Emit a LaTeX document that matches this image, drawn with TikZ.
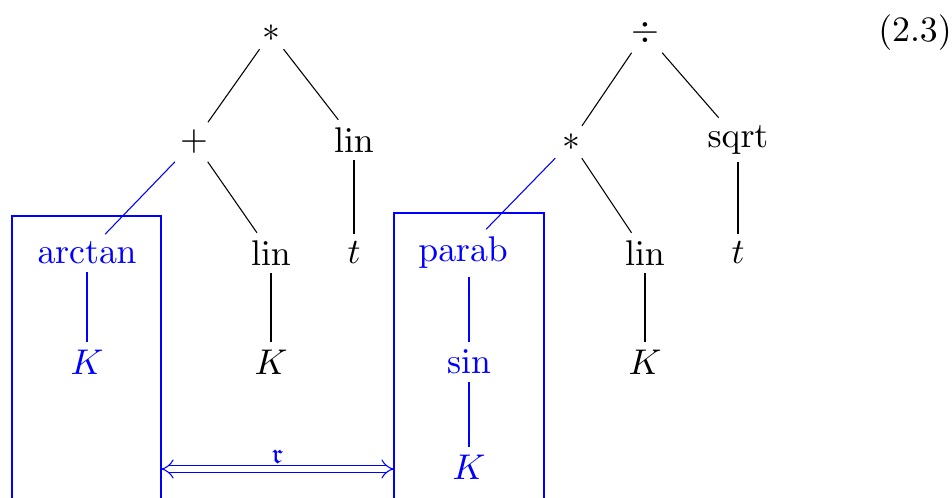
\documentclass[tikz,border=0pt]{standalone}
\usepackage{amsmath,amssymb}
\usetikzlibrary{arrows.meta}

\begin{document}
\begin{tikzpicture}[
    x=0.28pt, y=-0.28pt,
    op/.style={inner sep=2pt},
    hl/.style={inner sep=2pt, text=blue},
    edge/.style={draw, line width=0.3pt},
    hledge/.style={draw, line width=0.3pt, blue},
    subtree/.style={draw, blue, line width=0.3pt},
    gap/.style={blue, line width=0.3pt, double, double distance=1.6pt, {Implies[]}-{Implies[]}}
]
\useasboundingbox (0,0) rectangle (952,497);

% Left tree
\node[op] (mul1) at (271,33) {$\ast$};
\node[op] (plus) at (194,142) {$+$};
\node[op] (lin1) at (354,140) {$\operatorname{lin}$};
\node[hl] (arctan) at (87,253) {$\operatorname{arctan}$};
\node[op] (lin2) at (271,253) {$\operatorname{lin}$};
\node[op] (t1) at (354,253) {$t$};
\node[hl] (K1) at (87,362) {$K$};
\node[op] (K2) at (271,362) {$K$};

% Right tree
\node[op] (div) at (645,33) {$\div$};
\node[op] (mul2) at (571,142) {$\ast$};
\node[op] (sqrt) at (738,140) {$\operatorname{sqrt}$};
\node[hl] (parab) at (463,253) {$\operatorname{parab}$};
\node[op] (lin3) at (645,253) {$\operatorname{lin}$};
\node[op] (t2) at (738,253) {$t$};
\node[hl] (sin) at (469,362) {$\sin$};
\node[hl] (K3) at (469,467) {$K$};
\node[op] (K4) at (645,362) {$K$};

% Equation number
\node (eqno) at (915,33) {$(2.3)$};

% Edges of the left tree
\path[edge] (mul1) -- (plus);
\path[edge] (mul1) -- (lin1);
\path[edge] (plus) -- (lin2);
\path[edge] (lin1) -- (t1);
\path[edge] (lin2) -- (K2);
\path[hledge] (plus) -- (arctan);
\path[hledge] (arctan) -- (K1);

% Edges of the right tree
\path[edge] (div) -- (mul2);
\path[edge] (div) -- (sqrt);
\path[edge] (mul2) -- (lin3);
\path[edge] (sqrt) -- (t2);
\path[edge] (lin3) -- (K4);
\path[hledge] (mul2) -- (parab);
\path[hledge] (parab.south -| sin) -- (sin);
\path[hledge] (sin) -- (K3);

% Boxes round the subtrees
\draw[subtree] (12,530) |- (161,216) coordinate (boxL) -- (161,530);
\draw[subtree] (394,530) |- (544,213) coordinate (boxR) -- (544,530);

% Distance between the subtrees
\coordinate (gapL) at (161,469);
\coordinate (gapR) at (394,469);
\draw[gap] (gapL) -- node[above, inner sep=1.5pt, font=\footnotesize, text=blue] {$\mathfrak{r}$} (gapR);

\end{tikzpicture}
\end{document}
